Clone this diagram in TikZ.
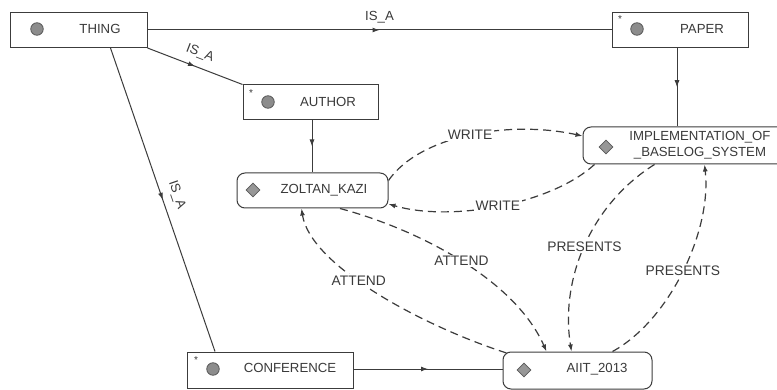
\documentclass[tikz,border=0pt]{standalone}
\usepackage{fontspec}
\setmainfont{Liberation Sans}
\usetikzlibrary{arrows.meta,decorations.markings,shapes.geometric}
\definecolor{ln}{HTML}{3C3C3C}
\definecolor{tx}{HTML}{3A3A3A}
\definecolor{icf}{HTML}{8C8C8C}
\definecolor{icd}{HTML}{5A5A5A}
\begin{document}
\begin{tikzpicture}[x=1pt,y=-1pt,
  every node/.style={font=\fontsize{13.2}{15.5}\selectfont, text=tx},
  cbox/.style={draw=ln, line width=1pt, fill=white, inner sep=0, rectangle},
  ibox/.style={cbox, rounded corners=8pt},
  lbl/.style={inner sep=0pt},
  dot/.style={circle, draw=icd, fill=icf, line width=0.8pt, minimum size=12.5pt, inner sep=0},
  dia/.style={diamond, draw=icd, fill=icf!90, line width=0.8pt, minimum width=14pt, minimum height=14pt, inner sep=0},
  star/.style={inner sep=0, font=\fontsize{10}{10}\selectfont},
  solidlink/.style={draw=ln, line width=1pt,
    postaction={decorate, decoration={markings, mark=at position 0.5 with {\arrow{Latex[length=7pt,width=5pt]}}}}},
  dlink/.style={draw=ln, line width=1.2pt, dash pattern=on 8pt off 5pt, -{Latex[length=7pt,width=5pt]}},
  elbl/.style={fill=white, inner sep=1.5pt, font=\fontsize{13.8}{16}\selectfont}
]
\clip (0,0) rectangle (777,390);
\fill[white] (0,0) rectangle (777,390);

% class boxes
\node[cbox, minimum width=137pt, minimum height=35pt] (thing) at (78.5,30) {};
\node[dot] (thingic) at (37,29) {};
\node[lbl] (thingt) at (100,29) {THING};

\node[cbox, minimum width=136pt, minimum height=35pt] (paper) at (680,30) {};
\node[star] (paperst) at (620,19) {*};
\node[dot] (paperic) at (637,29) {};
\node[lbl] (papert) at (702,29) {PAPER};

\node[cbox, minimum width=135pt, minimum height=35pt] (author) at (310.5,102.5) {};
\node[star] (authorst) at (251,93) {*};
\node[dot] (authoric) at (268,102) {};
\node[lbl] (authort) at (328,102) {AUTHOR};

\node[cbox, minimum width=166pt, minimum height=36pt] (conf) at (270,370) {};
\node[star] (confst) at (196,360) {*};
\node[dot] (confic) at (213,369) {};
\node[lbl] (conft) at (290,368) {CONFERENCE};

% instance boxes
\node[ibox, minimum width=151pt, minimum height=35pt] (zoltan) at (312.5,190.5) {};
\node[dia] (zoltanic) at (253,190) {};
\node[lbl] (zoltant) at (324,190) {ZOLTAN\_KAZI};

\node[ibox, minimum width=207pt, minimum height=37pt] (impl) at (686.5,145.5) {};
\node[dia] (implic) at (606,147) {};
\node[lbl, align=center] (implt) at (700,145) {IMPLEMENTATION\_OF\\\_BASELOG\_SYSTEM};

\node[ibox, minimum width=149pt, minimum height=37pt] (aiit) at (577.5,370.5) {};
\node[dia] (aiitic) at (524,370) {};
\node[lbl] (aiitt) at (597,369) {AIIT\_2013};

% solid links
\path[solidlink] (thing.east) -- node[above=3pt] (l1) {IS\_A} (paper.west);
\path[solidlink] (thing.south east) -- node[sloped, above=4pt] (l2) {IS\_A} (author.north west);
\path[solidlink] ([xshift=32pt]thing.south) -- node[sloped, above=5pt] (l3) {IS\_A} ([xshift=-55pt]conf.north);
\path[solidlink] ([xshift=-3pt]paper.south) -- ([xshift=-3pt]paper.south |- impl.north);
\path[solidlink] ([xshift=1.5pt]author.south) -- ([xshift=1.5pt]author.south |- zoltan.north);
\path[solidlink] ([yshift=1pt]conf.east) -- ([yshift=1pt]conf.east -| aiit.west);

% dashed links
\draw[dlink] ([yshift=10pt]zoltan.east) .. controls (420,135) and (510,120) .. node[elbl, pos=0.5] (w1) {WRITE} ([yshift=9.5pt]impl.west);
\draw[dlink] ([xshift=12pt]impl.south west) .. controls (550,205) and (450,222) .. node[elbl, pos=0.5] (w2) {WRITE} ([yshift=-13.5pt]zoltan.east);
\draw[dlink] ([xshift=27.5pt]zoltan.south) .. controls (420,230) and (515,280) .. node[elbl, pos=0.5] (a1) {ATTEND} ([xshift=44pt]aiit.north west);
\draw[dlink] ([xshift=4pt,yshift=-1.5pt]aiit.north west) .. controls (420,325) and (310,265) .. node[elbl, pos=0.57] (a2) {ATTEND} ([xshift=65pt]zoltan.south west);
\draw[dlink] ([xshift=72pt]impl.south west) .. controls (590,205) and (560,280) .. node[elbl, pos=0.5] (p1) {PRESENTS} ([xshift=69pt]aiit.north west);
\draw[dlink] ([xshift=110pt]aiit.north west) .. controls (670,320) and (712,230) .. node[elbl, pos=0.5] (p2) {PRESENTS} ([xshift=122pt]impl.south west);
\end{tikzpicture}
\end{document}
